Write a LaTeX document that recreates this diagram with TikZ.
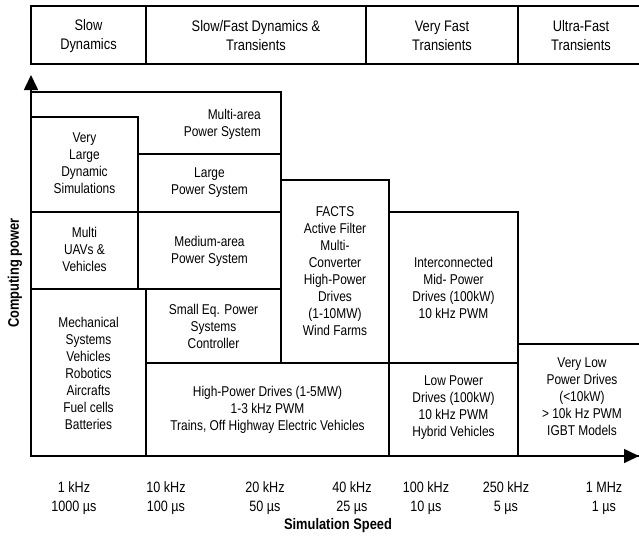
\documentclass[tikz,border=0pt]{standalone}
\usepackage{fontspec}
\setmainfont[FakeStretch=0.84]{Liberation Sans}
\usetikzlibrary{arrows.meta}
\begin{document}
\begin{tikzpicture}[x=1pt,y=-1pt,
  frame/.style={draw=black,line width=1.6pt,fill=white},
  txt/.style={align=center,font=\fontsize{14.2}{17}\selectfont,inner sep=0pt},
  hdr/.style={align=center,font=\fontsize{15.3}{19}\selectfont,inner sep=0pt},
  ticklab/.style={align=center,font=\fontsize{15}{19}\selectfont,inner sep=0pt},
  axlab/.style={font=\bfseries\fontsize{15.3}{17}\selectfont,inner sep=0pt},
  axisline/.style={line width=1.6pt,-{Triangle[length=15pt,width=14pt]}}]
\useasboundingbox (0,0) rectangle (639,535);
\clip (0,0) rectangle (639,535);

% header
\draw[frame] (31,6) rectangle (146,64);
\draw[frame] (146,6) rectangle (366,64);
\draw[frame] (366,6) rectangle (518,64);
\draw[frame] (518,6) rectangle (648,64);
\node[hdr] (h1) at (88.5,36) {Slow\\Dynamics};
\node[hdr] (h2) at (256,36) {Slow/Fast Dynamics \&\\Transients};
\node[hdr] (h3) at (442,36) {Very Fast\\Transients};
\node[hdr] (h4) at (581,36) {Ultra-Fast\\Transients};

% boxes
\draw[frame] (31,92) rectangle (281,154);
\draw[frame] (31,117) rectangle (138,212);
\draw[frame] (138,154) rectangle (281,212);
\draw[frame] (31,212) rectangle (138,289);
\draw[frame] (138,212) rectangle (281,289);
\draw[frame] (31,289) rectangle (146,456);
\draw[frame] (146,289) rectangle (281,363);
\draw[frame] (281,180) rectangle (389,363);
\draw[frame] (146,363) rectangle (389,456);
\draw[frame] (389,212) rectangle (518,363);
\draw[frame] (389,363) rectangle (518,456);
\draw[frame] (518,344) rectangle (648,456);

\node[txt,align=right,anchor=east] (multiarea) at (261,124) {Multi-area\\Power System};
\node[txt] (verylarge) at (84.5,163) {Very\\Large\\Dynamic\\Simulations};
\node[txt] (large) at (209.5,183) {Large\\Power System};
\node[txt] (uav) at (84.5,249) {Multi\\UAVs \&\\Vehicles};
\node[txt] (medium) at (209.5,251) {Medium-area\\Power System};
\node[txt] (mech) at (88.5,373) {Mechanical\\Systems\\Vehicles\\Robotics\\Aircrafts\\Fuel cells\\Batteries};
\node[txt] (small) at (213.5,326) {Small Eq. Power\\Systems\\Controller};
\node[txt] (facts) at (335,271.5) {FACTS\\Active Filter\\Multi-\\Converter\\High-Power\\Drives\\(1-10MW)\\Wind Farms};
\node[txt] (highpower) at (267.5,409.5) {High-Power Drives (1-5MW)\\1-3 kHz PWM\\Trains, Off Highway Electric Vehicles};
\node[txt] (inter) at (453.5,288) {Interconnected\\Mid- Power\\Drives (100kW)\\10 kHz PWM};
\node[txt] (lowpower) at (453.5,408) {Low Power\\Drives (100kW)\\10 kHz PWM\\Hybrid Vehicles};
\node[txt] (verylow) at (582,397) {Very Low\\Power Drives\\(<10kW)\\> 10k Hz PWM\\IGBT Models};

% axes
\coordinate (origin) at (31,456);
\coordinate (ytip) at (31,75);
\coordinate (xtip) at (639,456);
\draw[axisline] (origin) -- (ytip);
\draw[axisline] (origin) -- (xtip);

\node[axlab,rotate=90] (ylab) at (15,273) {Computing power};
\node[axlab] (xlab) at (338,526) {Simulation Speed};

\node[ticklab] (t1) at (74,498) {1 kHz\\1000 µs};
\node[ticklab] (t2) at (166,498) {10 kHz\\100 µs};
\node[ticklab] (t3) at (265,498) {20 kHz\\50 µs};
\node[ticklab] (t4) at (352,498) {40 kHz\\25 µs};
\node[ticklab] (t5) at (426,498) {100 kHz\\10 µs};
\node[ticklab] (t6) at (506,498) {250 kHz\\5 µs};
\node[ticklab] (t7) at (604,498) {1 MHz\\1 µs};
\end{tikzpicture}
\end{document}
